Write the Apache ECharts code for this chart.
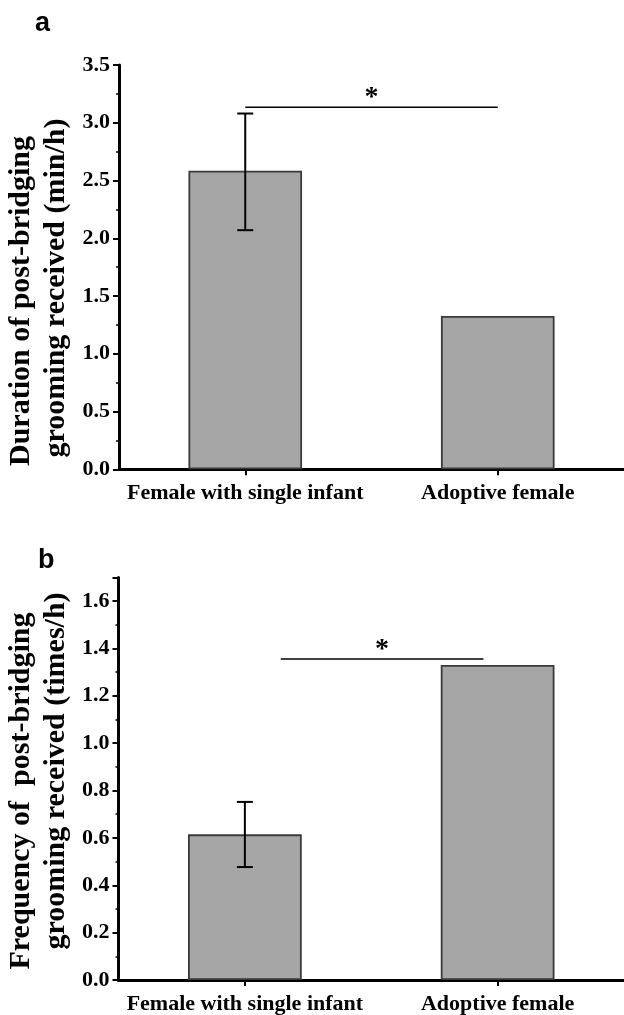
<!DOCTYPE html>
<html><head><meta charset="utf-8">
<script src="https://cdn.jsdelivr.net/npm/echarts@6/dist/echarts.min.js"></script>
<style>html,body{margin:0;padding:0;background:#fff}#c{width:624px;height:1015px}</style>
</head><body><div id="c"></div>
<script>
// ---- data ----
const categories = ['Female with single infant', 'Adoptive female'];
const durationMeans = [2.585, 1.328];
const durationErr = [[0, 2.07, 3.08]];            // [category index, low, high]
const frequencyMeans = [0.615, 1.33];
const frequencyErr = [[0, 0.477, 0.752]];
// significance brackets: [start (category units from first category), end, y value]
const durationSig = [[0.0, 1.0, 3.135]];
const frequencySig = [[0.142, 0.944, 1.355]];
const durationAxis = { min: 0, max: 3.5, interval: 0.5 };
const frequencyAxis = { min: 0, max: 1.7, interval: 0.2 };
const panelLetters = ['a', 'b'];
const durationTitle = ['Duration of post-bridging', 'grooming received (min/h)'];
const frequencyTitle = ['Frequency of  post-bridging', 'grooming received (times/h)'];

const SERIF = '"Liberation Serif", "Times New Roman", serif';
const chart = echarts.init(document.getElementById('c'), null, { renderer: 'canvas' });

function errRender(params, api) {
  const x = api.value(0);
  const lo = api.coord([x, api.value(1)]);
  const hi = api.coord([x, api.value(2)]);
  const hw = 8;
  const st = { stroke: '#000', lineWidth: 2 };
  return { type: 'group', children: [
    { type: 'line', shape: { x1: lo[0], y1: lo[1], x2: hi[0], y2: hi[1] }, style: st },
    { type: 'line', shape: { x1: lo[0] - hw, y1: lo[1], x2: lo[0] + hw, y2: lo[1] }, style: st },
    { type: 'line', shape: { x1: hi[0] - hw, y1: hi[1], x2: hi[0] + hw, y2: hi[1] }, style: st }
  ]};
}
function makeSigRender(sigArr) {
  return function (params, api) {
    const s = sigArr[params.dataIndex];
    const p0 = api.coord([0, api.value(1)]);
    const band = api.size([1, 0])[0];
    const x0 = p0[0] + s[0] * band;
    const x1 = p0[0] + s[1] * band;
    const y = p0[1];
    return { type: 'group', children: [
      { type: 'line', shape: { x1: x0, y1: y, x2: x1, y2: y }, style: { stroke: '#000', lineWidth: 1.5 } },
      { type: 'text', x: (x0 + x1) / 2, y: y + 5, style: { text: '*', font: 'bold 28px ' + SERIF, fill: '#000', align: 'center', verticalAlign: 'bottom' } }
    ]};
  };
}

function xAxisCfg(idx) {
  return {
    type: 'category', gridIndex: idx, data: categories, boundaryGap: true,
    axisLine: { lineStyle: { color: '#000', width: 3 } },
    axisTick: { show: true, alignWithLabel: true, interval: 0, length: 6, lineStyle: { color: '#000', width: 2 } },
    axisLabel: { color: '#000', fontFamily: SERIF, fontWeight: 'bold', fontSize: 22, margin: 13, interval: 0, hideOverlap: false },
    splitLine: { show: false }
  };
}
function yAxisCfg(idx, ax, showMax) {
  return {
    type: 'value', gridIndex: idx, min: ax.min, max: ax.max, interval: ax.interval,
    axisLine: { show: true, lineStyle: { color: '#000', width: 3 } },
    axisTick: { show: true, length: 6, lineStyle: { color: '#000', width: 2 } },
    minorTick: { show: true, splitNumber: 2, length: 3, lineStyle: { color: '#000', width: 1.5 } },
    axisLabel: { color: '#000', fontFamily: SERIF, fontWeight: 'bold', fontSize: 22, margin: 9,
      showMaxLabel: showMax, formatter: v => v.toFixed(1) },
    splitLine: { show: false }
  };
}
const barStyle = { color: '#a6a6a6', borderColor: '#3a3a3a', borderWidth: 1.8 };

function titleText(x, y, text, size) {
  return { type: 'text', x: x, y: y, rotation: Math.PI / 2,
    style: { text: text, font: 'bold ' + size + 'px ' + SERIF, fill: '#000', align: 'center', verticalAlign: 'middle' } };
}

chart.setOption({
  animation: false,
  backgroundColor: '#fff',
  grid: [
    { left: 119, top: 65, width: 509, height: 404.3 },
    { left: 118.5, top: 577.4, width: 509, height: 404.6 }
  ],
  xAxis: [xAxisCfg(0), xAxisCfg(1)],
  yAxis: [yAxisCfg(0, durationAxis, true), yAxisCfg(1, frequencyAxis, false)],
  series: [
    { type: 'bar', xAxisIndex: 0, yAxisIndex: 0, data: durationMeans, barWidth: '45%', itemStyle: barStyle, z: 2 },
    { type: 'custom', xAxisIndex: 0, yAxisIndex: 0, data: durationErr, renderItem: errRender, z: 3 },
    { type: 'custom', xAxisIndex: 0, yAxisIndex: 0, data: durationSig.map(s => [0, s[2]]), encode: { x: 0, y: 1 }, renderItem: makeSigRender(durationSig), z: 3 },
    { type: 'bar', xAxisIndex: 1, yAxisIndex: 1, data: frequencyMeans, barWidth: '45%', itemStyle: barStyle, z: 2 },
    { type: 'custom', xAxisIndex: 1, yAxisIndex: 1, data: frequencyErr, renderItem: errRender, z: 3 },
    { type: 'custom', xAxisIndex: 1, yAxisIndex: 1, data: frequencySig.map(s => [0, s[2]]), encode: { x: 0, y: 1 }, renderItem: makeSigRender(frequencySig), z: 3 }
  ],
  graphic: [
    { type: 'text', x: 35, y: 37, style: { text: panelLetters[0], font: 'bold 27px "Liberation Sans", Arial, sans-serif', fill: '#000', verticalAlign: 'bottom' } },
    { type: 'text', x: 38, y: 574, style: { text: panelLetters[1], font: 'bold 27px "Liberation Sans", Arial, sans-serif', fill: '#000', verticalAlign: 'bottom' } },
    titleText(21, 301, durationTitle[0], 30),
    titleText(56, 288, durationTitle[1], 30),
    titleText(21, 791, frequencyTitle[0], 30),
    titleText(56, 771, frequencyTitle[1], 30)
  ]
});
</script></body></html>
